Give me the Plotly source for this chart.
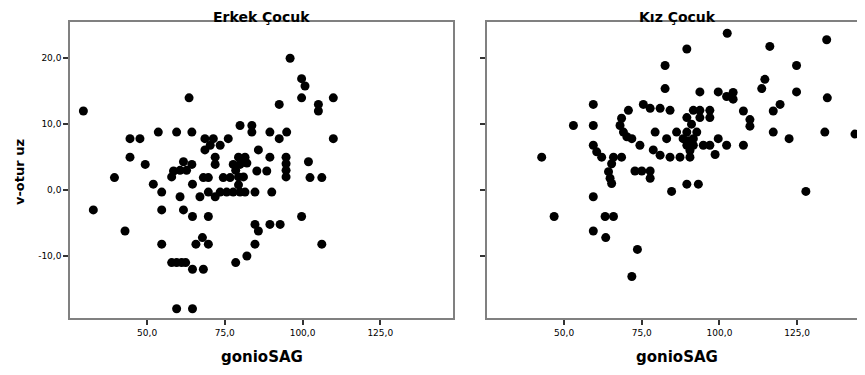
import plotly.graph_objects as go

# ---- data ----
boys_x = [29.5, 96.0, 99.7, 100.8, 99.7, 109.9, 92.5, 105.1, 105.1, 63.5, 109.9,
          53.6, 59.5, 64.4, 44.5, 47.7, 68.6, 71.3, 76.1, 79.9, 83.7, 83.7, 89.5,
          94.9, 92.5, 70.3, 68.6, 73.5, 85.8, 44.5, 49.4, 61.7, 64.4, 60.6, 62.7,
          58.5, 71.9, 71.9, 79.4, 81.5, 77.7, 79.9, 82.1, 89.5, 94.7, 94.7, 94.7,
          94.7, 101.9, 102.4, 106.2, 39.5, 57.9, 68.1, 69.7, 74.5, 76.7, 85.3,
          88.5, 79.4, 81.0, 80.5, 78.5, 52.0, 54.7, 64.6, 60.6, 67.0, 69.7, 71.9,
          73.5, 75.6, 77.7, 79.9, 81.5, 79.4, 84.7, 90.1, 32.7, 54.7, 61.7, 64.6,
          69.7, 99.7, 42.9, 84.7, 85.8, 89.5, 92.8, 54.7, 65.7, 67.8, 69.7, 84.7,
          106.2, 82.1, 78.5, 57.9, 59.5, 61.1, 62.4, 64.6, 68.1, 59.5, 64.6]
boys_y = [12.0, 20.0, 16.9, 15.8, 14.0, 14.0, 13.0, 13.0, 12.0, 14.0, 7.8,
          8.8, 8.8, 8.8, 7.8, 7.8, 7.8, 7.8, 7.8, 9.8, 9.8, 8.8, 8.8,
          8.8, 7.8, 6.8, 6.1, 6.8, 6.1, 5.0, 3.9, 4.3, 3.9, 3.0, 3.0,
          2.9, 5.0, 3.9, 5.0, 5.0, 3.9, 3.9, 4.1, 5.0, 5.0, 4.0, 3.0,
          2.0, 4.3, 1.9, 1.9, 1.9, 2.0, 1.9, 1.9, 1.9, 1.9, 2.9,
          2.9, 2.0, 2.0, 4.5, 3.0, 0.9, -0.3, 0.9, -1.0, -1.0, -0.3, -1.0,
          -0.3, -0.3, -0.3, -0.3, -0.3, 0.8, -0.3, -0.3, -3.0, -3.0, -3.0, -4.0,
          -4.0, -4.0, -6.2, -5.2, -6.2, -5.2, -5.2, -8.2, -8.2, -7.2, -8.2, -8.2,
          -8.2, -10.0, -11.0, -11.0, -11.0, -11.0, -11.0, -12.0, -12.0, -18.0, -18.0]

girls_x = [102.5, 134.5, 89.5, 116.2, 82.5, 124.8, 114.6, 113.6, 82.5, 93.7, 99.6,
           102.3, 104.4, 104.4, 124.8, 134.7, 59.4, 75.5, 77.7, 80.9, 84.1, 70.7,
           91.6, 93.7, 96.9, 89.5, 93.7, 96.9, 107.7, 117.3, 119.5, 109.8, 109.8,
           53.0, 59.4, 68.5, 68.0, 69.1, 70.2, 71.8, 74.4, 79.3, 83.0, 86.2, 89.5,
           92.7, 88.3, 91.6, 89.5, 91.6, 94.8, 96.9, 99.6, 102.3, 107.7, 117.3,
           122.4, 133.9, 143.6, 78.7, 80.9, 84.1, 87.3, 90.5, 98.6, 42.8, 59.4,
           60.5, 62.1, 65.9, 68.5, 65.3, 64.3, 64.8, 65.3, 72.8, 75.0, 77.7, 77.7,
           89.5, 93.2, 84.6, 127.8, 59.4, 46.8, 63.2, 65.9, 59.4, 63.4, 73.6, 71.8,
           91.0, 90.0, 90.5]
girls_y = [23.8, 22.8, 21.4, 21.8, 18.9, 18.9, 16.8, 15.4, 15.4, 14.9, 14.9,
           14.2, 14.8, 13.8, 14.9, 14.0, 13.0, 13.0, 12.4, 12.4, 12.1, 12.1,
           12.1, 12.1, 12.1, 11.0, 11.0, 11.0, 12.0, 12.0, 13.0, 10.7, 9.7,
           9.8, 9.8, 10.9, 9.8, 8.8, 8.1, 7.8, 6.8, 8.8, 7.8, 8.8, 8.8,
           8.8, 7.8, 7.8, 6.8, 6.8, 6.8, 6.8, 7.8, 6.8, 6.8, 8.8,
           7.8, 8.8, 8.5, 6.1, 5.3, 5.0, 5.0, 5.0, 5.4, 5.0, 6.8,
           5.8, 5.0, 5.0, 5.0, 4.0, 2.8, 1.8, 1.0, 2.9, 2.9, 2.9, 1.8,
           0.9, 0.9, -0.2, -0.2, -1.0, -4.0, -4.0, -4.0, -6.2, -7.2, -9.0, -13.1,
           10.0, 7.5, 6.0]

x_tickvals = [50, 75, 100, 125]
x_ticktext = ["50,0", "75,0", "100,0", "125,0"]
y_tickvals = [-10, 0, 10, 20]
y_ticktext = ["-10,0", "0,0", "10,0", "20,0"]

panel_titles = ["Erkek Çocuk", "Kız Çocuk"]
x_title = "gonioSAG"
y_title = "v-otur uz"

# ---- layout geometry in screen pixels (page body adds an 8px offset) ----
W, H, OFF = 865, 375, 8
def px(v):
    return (v - OFF) / W
def py(v):
    return 1 - (v - OFF) / H

fig = go.Figure()
marker = dict(color="black", size=9, line=dict(width=0))
fig.add_trace(go.Scatter(x=boys_x, y=boys_y, mode="markers", marker=marker,
                         xaxis="x", yaxis="y", showlegend=False))
fig.add_trace(go.Scatter(x=girls_x, y=girls_y, mode="markers", marker=marker,
                         xaxis="x2", yaxis="y2", showlegend=False))

tickfont = dict(family="DejaVu Sans", size=9, color="black")
line_col = "#808080"
common_x = dict(showgrid=False, zeroline=False, showline=True, linecolor=line_col,
                linewidth=1.5, mirror=True, ticks="outside", ticklen=5,
                tickwidth=1.5, tickcolor="#333333", tickvals=x_tickvals,
                ticktext=x_ticktext, tickfont=tickfont, automargin=False)
common_y = dict(showgrid=False, zeroline=False, showline=True, linecolor=line_col,
                linewidth=1.5, ticks="outside", ticklen=5, tickwidth=1.5,
                tickcolor="#333333", tickvals=y_tickvals, automargin=False)
yrange = [-19.4, 25.5]
ydom = [py(318), py(22)]

fig.update_layout(
    width=W, height=H, autosize=False,
    margin=dict(l=0, r=0, t=0, b=0, pad=0),
    paper_bgcolor="white", plot_bgcolor="white",
    xaxis=dict(domain=[px(70), px(453)], range=[25.2, 148.4], anchor="y", **common_x),
    xaxis2=dict(domain=[px(487), 1.0], range=[25.2, 149.4], anchor="y2", **common_x),
    yaxis=dict(domain=ydom, range=yrange, anchor="x", mirror=True,
               ticktext=y_ticktext, tickfont=tickfont, **common_y),
    yaxis2=dict(domain=ydom, range=yrange, anchor="x2", mirror=False,
                showticklabels=False, **common_y),
)

title_font = dict(family="DejaVu Sans", size=14, color="black")
centers = [(px(70) + px(453)) / 2, px(677)]
ann = []
for cx, t in zip(centers, panel_titles):
    ann.append(dict(x=cx, y=1.0, xref="paper", yref="paper", text=f"<b>{t}</b>",
                    showarrow=False, font=title_font, xanchor="center", yanchor="top",
                    borderpad=0))
    ann.append(dict(x=cx, y=py(357), xref="paper", yref="paper", text=f"<b>{x_title}</b>",
                    showarrow=False, font=dict(family="DejaVu Sans", size=15, color="black"),
                    xanchor="center", yanchor="middle"))
ann.append(dict(x=px(19), y=py(172), xref="paper", yref="paper", text=f"<b>{y_title}</b>",
                showarrow=False, font=dict(family="DejaVu Sans", size=13, color="black"),
                textangle=-90, xanchor="center", yanchor="middle"))
fig.update_layout(annotations=ann)

fig.write_html("out.html")
